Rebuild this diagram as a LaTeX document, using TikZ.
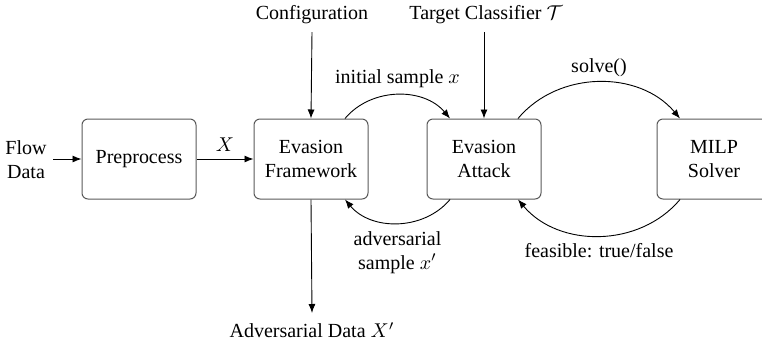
\documentclass[tikz,border=0pt]{standalone}
\usepackage{fontspec}
\setmainfont{Liberation Serif}
\usetikzlibrary{arrows.meta}
\begin{document}
\begin{tikzpicture}[x=0.5pt,y=-0.5pt,
  font=\fontsize{10}{12}\selectfont,
  box/.style={draw=black!65, line width=0.5pt, rounded corners=3pt,
    minimum width=57pt, minimum height=40pt, align=center, inner sep=2pt},
  lbl/.style={align=center, inner sep=0pt},
  conn/.style={-{Latex[length=4.5pt,width=3.5pt]}, line width=0.45pt},
  arc/.style={conn, bend left=50}]
\useasboundingbox (0,0) rectangle (762,344);

% processing stages
\node[box] (pre) at (139,159) {Preprocess};
\node[box] (fw)  at (311,159) {Evasion\\Framework};
\node[box] (att) at (484,159) {Evasion\\Attack};
\node[box] (milp) at (714,159) {MILP\\Solver};

% external inputs and outputs
\node[lbl] (flow) at (26,160) {Flow\\Data};
\node[lbl] (conf) at (312,15) {Configuration};
\node[lbl] (tgt)  at (486,15) {Target Classifier $\mathcal{T}$};
\node[lbl] (adv)  at (312,330) {Adversarial Data $X'$};
\coordinate (flowend) at (53,159);
\coordinate (confend) at (312,32);
\coordinate (tgtend)  at (484,32);
\coordinate (advend)  at (312,313);

% straight connectors
\draw[conn] (flowend) -- (pre.west);
\draw[conn] (pre.east) -- node[above=0pt] {$X$} (fw.west);
\draw[conn] (confend) -- (fw.north);
\draw[conn] (tgtend) -- (att.north);
\draw[conn] (fw.south) -- (advend);

% exchanges between the stages
\draw[arc] (fw.50) to node[above=0pt] {initial sample $x$} (att.130);
\draw[arc] (att.230) to node[below=0.5pt, align=center] {adversarial\\sample $x'$} (fw.-50);
\draw[arc] (att.50) to node[above=-1pt] {solve()} (milp.130);
\draw[arc] (milp.230) to node[below=0pt] {feasible: true/false} (att.-50);
\end{tikzpicture}
\end{document}
